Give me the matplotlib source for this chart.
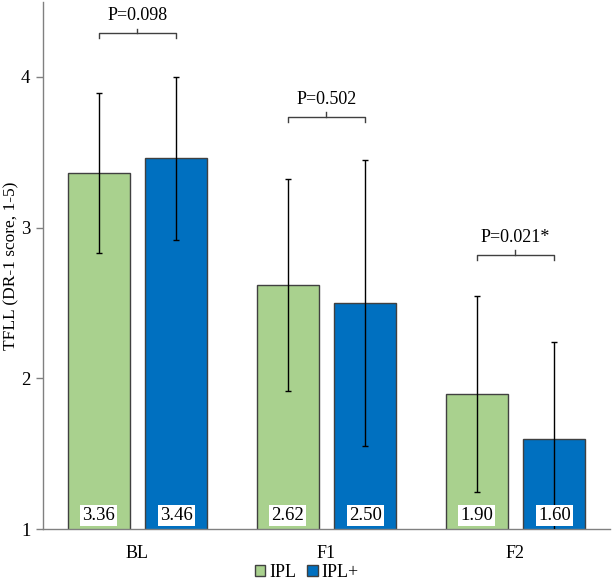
import matplotlib
matplotlib.use("Agg")
import matplotlib.pyplot as plt
import numpy as np

plt.rcParams.update({
    "font.family": ["Liberation Serif", "DejaVu Serif"],
    "font.size": 12.5,
})

TIMEPOINTS = ["BL", "F1", "F2"]
GROUPS = ["IPL", "IPL+"]
IPL_MEAN = [3.36, 2.62, 1.90]
IPL_SD = [0.53, 0.70, 0.65]
IPLP_MEAN = [3.46, 2.50, 1.60]
IPLP_SD = [0.54, 0.95, 0.64]
P_LABELS = ["P=0.098", "P=0.502", "P=0.021*"]
BRACKET_Y = [4.29, 3.735, 2.82]

C_IPL = "#A9D18E"
C_IPLP = "#0070C0"
EDGE = "#404040"
AXC = "#808080"

fig = plt.figure(figsize=(6.13, 5.84), dpi=100)
ax = fig.add_axes([0.0701, 0.0937, 0.9249, 0.9037])

x = np.arange(len(TIMEPOINTS))
w = 0.328
off = 0.206
ax.bar(x - off, IPL_MEAN, w, color=C_IPL, edgecolor=EDGE,
       linewidth=1.0, label=GROUPS[0], zorder=2)
ax.bar(x + off, IPLP_MEAN, w, color=C_IPLP, edgecolor=EDGE,
       linewidth=1.0, label=GROUPS[1], zorder=2)
ax.errorbar(x - off, IPL_MEAN, yerr=IPL_SD, fmt="none", ecolor="black",
            elinewidth=1.0, capsize=2, capthick=1.0, zorder=3)
ax.errorbar(x + off, IPLP_MEAN, yerr=IPLP_SD, fmt="none", ecolor="black",
            elinewidth=1.0, capsize=2, capthick=1.0, zorder=3)

# value labels at the foot of each bar
for xs, vals in [(x - off, IPL_MEAN), (x + off, IPLP_MEAN)]:
    for xi, v in zip(xs, vals):
        ax.text(xi, 1.09, f"{v:.2f}", ha="center", va="center", zorder=4,
                fontsize=13.5,
                bbox=dict(boxstyle="square,pad=0.12", fc="white", ec="none"))

# p-value brackets
for xi, by, lab in zip(x, BRACKET_Y, P_LABELS):
    x0, x1 = xi - off, xi + off
    ax.plot([x0, x0, x1, x1], [by - 0.035, by, by, by - 0.035],
            color="#404040", lw=1.0, zorder=3, solid_joinstyle="round")
    ax.plot([xi, xi], [by, by + 0.03], color="#404040", lw=1.0, zorder=3)
    ax.text(xi, by + 0.06, lab, ha="center", va="bottom", fontsize=13)

ax.set_xlim(-0.5, 2.5)
ax.set_ylim(1, 4.5)
ax.set_yticks([1, 2, 3, 4])
ax.set_xticks(x)
ax.set_xticklabels(TIMEPOINTS, fontsize=13)
ax.tick_params(axis="x", length=0, pad=11)
ax.tick_params(axis="y", length=5, color=AXC, width=1, pad=4, labelsize=13.5)
ax.set_ylabel("TFLL (DR-1 score, 1-5)", labelpad=1, fontsize=12.5)
for s in ["top", "right"]:
    ax.spines[s].set_visible(False)
for s in ["left", "bottom"]:
    ax.spines[s].set_color(AXC)
    ax.spines[s].set_linewidth(1.0)

fig.legend(loc="lower center", bbox_to_anchor=(0.5, -0.022), ncol=2,
           frameon=False, handlelength=0.6, handleheight=0.6,
           handletextpad=0.2, columnspacing=0.6, fontsize=13)

fig.savefig("out.png", dpi=100, facecolor="white")
